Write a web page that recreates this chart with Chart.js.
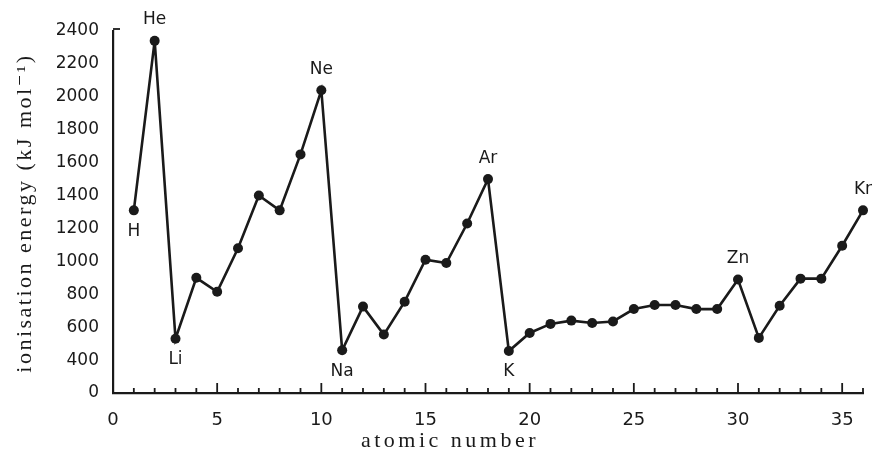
<!DOCTYPE html>
<html>
<head>
<meta charset="utf-8">
<script src="https://cdn.jsdelivr.net/npm/chart.js@4/dist/chart.umd.min.js"></script>
<style>
  html, body { margin: 0; padding: 0; background: #ffffff; }
  #wrap { width: 875px; height: 452px; position: relative; }
</style>
</head>
<body>
<div id="wrap"><canvas id="c" width="875" height="452"></canvas></div>
<script>
// ---- data ----
const atomicNumbers = [1,2,3,4,5,6,7,8,9,10,11,12,13,14,15,16,17,18,19,20,21,22,23,24,25,26,27,28,29,30,31,32,33,34,35,36];
const elements = ['H','He','Li','Be','B','C','N','O','F','Ne','Na','Mg','Al','Si','P','S','Cl','Ar','K','Ca','Sc','Ti','V','Cr','Mn','Fe','Co','Ni','Cu','Zn','Ga','Ge','As','Se','Br','Kr'];
const ionisationEnergy = [1310,2340,530,900,815,1080,1400,1310,1650,2040,460,725,555,755,1010,990,1230,1500,455,565,620,640,625,635,710,735,735,710,710,890,535,730,895,895,1095,1310];
const labelledElements = ['H','He','Li','Ne','Na','Ar','K','Zn','Kr'];
const labelsBelow = ['H','Li','Na','K'];
const xTickLabels = [0,5,10,15,20,25,30,35];
const yTickValues = [200,400,600,800,1000,1200,1400,1600,1800,2000,2200,2400];
const yTickText = ['0','400','600','800','1000','1200','1400','1600','1800','2000','2200','2400'];
const xTitle = 'atomic number';
const yTitle = 'ionisation energy (kJ mol\u207B\u00B9)';

const INK = '#1a1a1a';

const points = atomicNumbers.map((n, i) => ({ x: n, y: ionisationEnergy[i] }));

const decorPlugin = {
  id: 'decor',
  afterDraw(chart) {
    const ctx = chart.ctx;
    const xs = chart.scales.x, ys = chart.scales.y;
    const area = chart.chartArea;
    ctx.save();
    ctx.strokeStyle = INK;
    ctx.lineWidth = 1.8;
    // inward tick marks on the x axis
    for (let v = 0; v <= 36; v++) {
      const px = xs.getPixelForValue(v);
      const len = v % 5 === 0 ? 10 : 5;
      ctx.beginPath();
      ctx.moveTo(px, area.bottom);
      ctx.lineTo(px, area.bottom - len);
      ctx.stroke();
    }
    // small tick at the top of the y axis
    const ty = ys.getPixelForValue(2400) - 2;
    ctx.beginPath();
    ctx.moveTo(area.left, ty);
    ctx.lineTo(area.left + 7, ty);
    ctx.stroke();

    // element labels
    const meta = chart.getDatasetMeta(0);
    ctx.fillStyle = INK;
    ctx.font = '17px "DejaVu Sans", sans-serif';
    ctx.textAlign = 'center';
    ctx.textBaseline = 'middle';
    labelledElements.forEach(el => {
      const i = elements.indexOf(el);
      const pt = meta.data[i];
      const below = labelsBelow.includes(el);
      ctx.fillText(el, pt.x, below ? pt.y + 21 : pt.y - 21);
    });

    // axis titles
    ctx.font = '22px "Liberation Serif", "DejaVu Serif", serif';
    ctx.letterSpacing = '3.5px';
    ctx.textAlign = 'center';
    ctx.textBaseline = 'middle';
    ctx.fillText(xTitle, 450, 441);
    ctx.save();
    ctx.translate(25, 213);
    ctx.rotate(-Math.PI / 2);
    ctx.letterSpacing = '2.5px';
    ctx.fillText(yTitle, 0, 0);
    ctx.restore();
    ctx.restore();
  }
};

new Chart(document.getElementById('c'), {
  type: 'line',
  data: {
    datasets: [{
      data: points,
      borderColor: INK,
      backgroundColor: INK,
      borderWidth: 2.6,
      pointRadius: 5,
      pointBackgroundColor: INK,
      pointBorderColor: INK,
      pointBorderWidth: 0,
      tension: 0,
      clip: false
    }]
  },
  options: {
    responsive: false,
    animation: false,
    events: [],
    layout: { padding: { left: 0, top: 31, right: 12, bottom: 0 } },
    plugins: { legend: { display: false }, tooltip: { enabled: false } },
    scales: {
      x: {
        type: 'linear',
        min: 0, max: 36,
        grid: { display: false },
        border: { display: true, color: INK, width: 2.2 },
        afterFit(scale) { scale.height = 59; },
        afterBuildTicks(scale) { scale.ticks = xTickLabels.map(v => ({ value: v })); },
        ticks: {
          autoSkip: false, maxRotation: 0, padding: 9,
          color: INK,
          font: { family: '"DejaVu Sans", sans-serif', size: 18 },
          callback: v => String(v)
        }
      },
      y: {
        type: 'linear',
        min: 200, max: 2400,
        grid: { display: false },
        border: { display: true, color: INK, width: 2.2 },
        afterFit(scale) { scale.width = 113; },
        afterBuildTicks(scale) { scale.ticks = yTickValues.map(v => ({ value: v })); },
        ticks: {
          autoSkip: false, padding: 6,
          color: INK,
          font: { family: '"DejaVu Sans", sans-serif', size: 17 },
          callback: v => yTickText[yTickValues.indexOf(v)]
        }
      }
    }
  },
  plugins: [decorPlugin]
});
</script>
</body>
</html>
